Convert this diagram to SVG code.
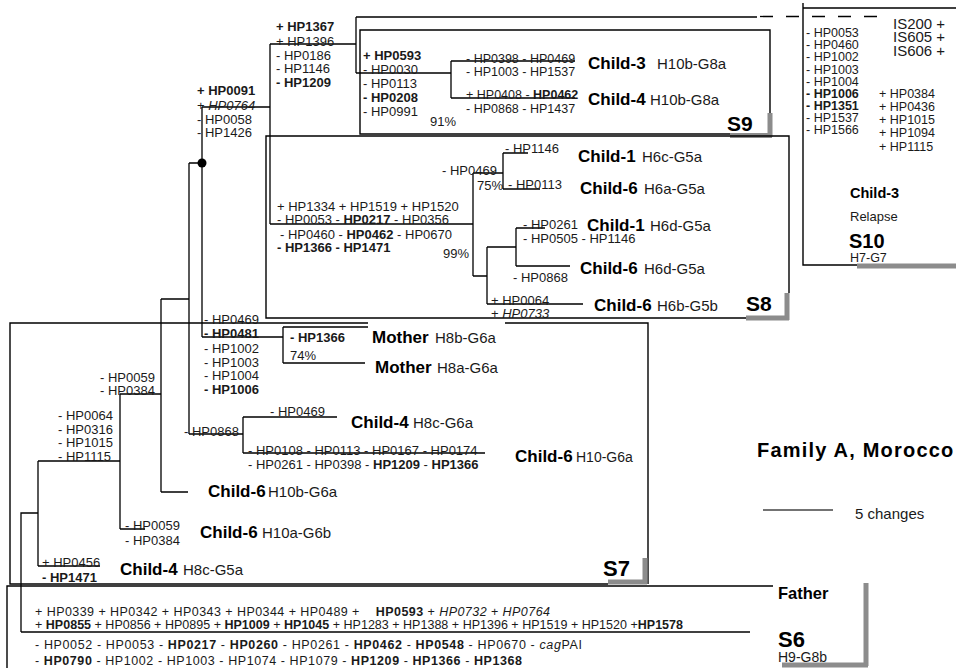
<svg xmlns="http://www.w3.org/2000/svg" width="956" height="668" viewBox="0 0 956 668">
<style>
.ln{stroke:#000;stroke-width:1.3;fill:none}
.bx{stroke:#000;stroke-width:1.4;fill:none}
.gr{stroke:#8c8c8c;stroke-width:5;fill:none}
text{font-family:"Liberation Sans",Arial,sans-serif;fill:#1a1a1a}
.t{font-size:13px}
.t2{font-size:12.5px}
.b{font-weight:bold}
.i{font-style:italic}
.c{font-size:17px;font-weight:bold;fill:#000}
.h{font-size:15px}
.s{font-size:21px;font-weight:bold;fill:#000}
</style>
<rect width="956" height="668" fill="#fff"/>

<g id="connectors">
<path class="ln" d="M21,632 V513 H38 M38,461 V566 M38,461 H120 M38,566 H100"/>
<path class="ln" d="M120,394 V529 M120,394 H161 M120,529 H145"/>
<path class="ln" d="M161,299 V492 M161,299 H189 M161,492 H188"/>
<path class="ln" d="M189,163 V434 M189,163 H202 M189,434 H243"/>
<path class="ln" d="M243,417 V453 M243,417 H337 M243,453 H485"/>
<path class="ln" d="M202,107 V337 M202,107 H270 M202,337 H283"/>
<path class="ln" d="M283,327 V363 M283,327 H368 M283,363 H365"/>
<path class="ln" d="M270,44 V224 M270,44 H356 M270,224 H473"/>
<path class="ln" d="M356,17 V73 M356,17 H757 M356,73 H451"/>
<path class="ln" d="M757,16.5 H884" stroke-dasharray="13 13" style="stroke-dashoffset:-3"/>
<path class="ln" d="M451,61 V98 M451,61 H575 M451,98 H575"/>
<path class="ln" d="M473,173 V276 M473,173 H503 M473,276 H487"/>
<path class="ln" d="M503,153 V189 M503,153 H528 M503,189 H540"/>
<path class="ln" d="M487,247 V304 M487,247 H516 M487,304 H583"/>
<path class="ln" d="M516,228 V266 M516,228 H545 M516,266 H570"/>
<path class="ln" d="M21,632 H750"/>
<circle cx="202" cy="163" r="4.5" fill="#000"/>
</g>

<g id="box-S9">
<path class="bx" d="M730,134 H360 V30 H770 V113"/>
<path class="gr" d="M770,113 V137 M730,135.5 H772"/>
<text class="s" x="727" y="131">S9</text>
</g>
<g id="box-S8">
<path class="bx" d="M746,318 H266 V136 H789 V293"/>
<path class="gr" d="M787,293 V320 M746,318 H789"/>
<text class="s" x="746" y="311">S8</text>
</g>
<g id="box-S7">
<path class="bx" d="M608,584 H10 V323 H368 M505,323 H648 V584"/>
<path class="gr" d="M645,558 V584 M608,582 H647"/>
<text class="s" x="603" y="576" style="font-size:22px">S7</text>
</g>
<g id="box-S6">
<path class="bx" d="M7,668 V586 H773"/>
<path class="gr" d="M866,583 V666 M782,665 H868"/>
<text class="c" x="778" y="599" style="font-size:16.5px">Father</text>
<text class="s" x="778" y="647" style="font-size:22px">S6</text>
<text class="h" x="778" y="662" style="font-size:14px">H9-G8b</text>
</g>
<g id="box-S10">
<path class="bx" d="M803,3 V265 H857 M803,8 H956"/>
<path class="gr" d="M857,266 H956"/>
<text class="c" x="850" y="198" style="font-size:14.5px">Child-3</text>
<text class="t" x="850" y="221" style="font-size:13px">Relapse</text>
<text class="s" x="849" y="248" style="font-size:20px">S10</text>
<text class="t" x="850" y="262" style="font-size:12.5px">H7-G7</text>
</g>

<g id="labels-S10" class="t" style="font-size:12.5px">
<text x="806" y="37">- HP0053</text>
<text x="806" y="49">- HP0460</text>
<text x="806" y="61">- HP1002</text>
<text x="806" y="74">- HP1003</text>
<text x="806" y="86">- HP1004</text>
<text x="806" y="98" class="b">- HP1006</text>
<text x="806" y="110" class="b">- HP1351</text>
<text x="806" y="122">- HP1537</text>
<text x="806" y="134">- HP1566</text>
<text x="893" y="29" style="font-size:15px">IS200 +</text>
<text x="893" y="42" style="font-size:15px">IS605 +</text>
<text x="893" y="56" style="font-size:15px">IS606 +</text>
<text x="879" y="98">+ HP0384</text>
<text x="879" y="111">+ HP0436</text>
<text x="879" y="124">+ HP1015</text>
<text x="879" y="137">+ HP1094</text>
<text x="879" y="151">+ HP1115</text>
</g>

<g id="labels-upper" class="t">
<text x="197" y="95" class="b">+ HP0091</text>
<text x="197" y="110">+ <tspan class="i">HP0764</tspan></text>
<text x="197" y="124">- HP0058</text>
<text x="197" y="137">- HP1426</text>
<text x="276" y="31" class="b">+ HP1367</text>
<text x="276" y="46">+ HP1396</text>
<text x="276" y="60">- HP0186</text>
<text x="276" y="73">- HP1146</text>
<text x="276" y="87" class="b">- HP1209</text>
<text x="363" y="60" class="b">+ HP0593</text>
<text x="363" y="74">- HP0030</text>
<text x="363" y="88">- HP0113</text>
<text x="363" y="102" class="b">- HP0208</text>
<text x="363" y="116">- HP0991</text>
<text x="430" y="126">91%</text>
<text x="466" y="63" class="t2">- HP0398 - HP0469</text>
<text x="466" y="76" class="t2">- HP1003 - HP1537</text>
<text x="466" y="99" class="t2">+ HP0408 - <tspan class="b">HP0462</tspan></text>
<text x="466" y="113" class="t2">- HP0868 - HP1437</text>
</g>
<g id="node-child3-S9"><text class="c" x="588" y="69">Child-3</text><text class="h" x="657" y="69">H10b-G8a</text></g>
<g id="node-child4-S9"><text class="c" x="588" y="105">Child-4</text><text class="h" x="650" y="105">H10b-G8a</text></g>

<g id="labels-S8" class="t">
<text x="277" y="211">+ HP1334 + HP1519 + HP1520</text>
<text x="277" y="224">- HP0053 - <tspan class="b">HP0217</tspan> - HP0356</text>
<text x="280" y="239">- HP0460 - <tspan class="b">HP0462</tspan> - HP0670</text>
<text x="277" y="252" class="b">- HP1366 - HP1471</text>
<text x="442" y="175">- HP0469</text>
<text x="477" y="190">75%</text>
<text x="443" y="258">99%</text>
<text x="505" y="153">- HP1146</text>
<text x="508" y="189">- HP0113</text>
<text x="523" y="229">- HP0261</text>
<text x="523" y="243">- HP0505 - HP1146</text>
<text x="513" y="282">- HP0868</text>
<text x="491" y="305">+ HP0064</text>
<text x="491" y="318">+ <tspan class="i">HP0733</tspan></text>
</g>
<g id="node-child1-H6c"><text class="c" x="578" y="162">Child-1</text><text class="h" x="642" y="162">H6c-G5a</text></g>
<g id="node-child6-H6a"><text class="c" x="580" y="194">Child-6</text><text class="h" x="644" y="194">H6a-G5a</text></g>
<g id="node-child1-H6d"><text class="c" x="587" y="231">Child-1</text><text class="h" x="650" y="231">H6d-G5a</text></g>
<g id="node-child6-H6d"><text class="c" x="580" y="274">Child-6</text><text class="h" x="644" y="274">H6d-G5a</text></g>
<g id="node-child6-H6b"><text class="c" x="594" y="311">Child-6</text><text class="h" x="657" y="311">H6b-G5b</text></g>

<g id="labels-S7" class="t">
<text x="204" y="324">- HP0469</text>
<text x="204" y="338" class="b">- HP0481</text>
<text x="204" y="353">- HP1002</text>
<text x="204" y="367">- HP1003</text>
<text x="204" y="380">- HP1004</text>
<text x="204" y="394" class="b">- HP1006</text>
<text x="290" y="342" class="b">- HP1366</text>
<text x="290" y="360">74%</text>
<text x="270" y="416">- HP0469</text>
<text x="184" y="436">- HP0868</text>
<text x="248" y="455">- HP0108 - HP0113 - HP0167 - HP0174</text>
<text x="248" y="469">- HP0261 - HP0398 - <tspan class="b">HP1209</tspan> - <tspan class="b">HP1366</tspan></text>
<text x="100" y="382">- HP0059</text>
<text x="100" y="395">- HP0384</text>
<text x="58" y="420">- HP0064</text>
<text x="58" y="434">- HP0316</text>
<text x="58" y="447">- HP1015</text>
<text x="58" y="461">- HP1115</text>
<text x="125" y="530">- HP0059</text>
<text x="125" y="545">- HP0384</text>
<text x="42" y="567">+ HP0456</text>
<text x="42" y="582" class="b">- HP1471</text>
</g>
<g id="node-mother-H8b"><text class="c" x="372" y="343">Mother</text><text class="h" x="435" y="343">H8b-G6a</text></g>
<g id="node-mother-H8a"><text class="c" x="375" y="373">Mother</text><text class="h" x="437" y="373">H8a-G6a</text></g>
<g id="node-child4-H8c-G6a"><text class="c" x="351" y="428">Child-4</text><text class="h" x="413" y="428">H8c-G6a</text></g>
<g id="node-child6-H10"><text class="c" x="515" y="462">Child-6</text><text class="h" x="576" y="462" style="font-size:14px">H10-G6a</text></g>
<g id="node-child6-H10b"><text class="c" x="208" y="497">Child-6</text><text class="h" x="268" y="497">H10b-G6a</text></g>
<g id="node-child6-H10a"><text class="c" x="200" y="538">Child-6</text><text class="h" x="262" y="538">H10a-G6b</text></g>
<g id="node-child4-H8c-G5a"><text class="c" x="120" y="575">Child-4</text><text class="h" x="183" y="575">H8c-G5a</text></g>

<g id="labels-S6" class="t2">
<text x="35" y="616" textLength="515" lengthAdjust="spacing">+ HP0339 + HP0342 + HP0343 + HP0344 + HP0489 + <tspan class="b" dx="12">HP0593</tspan> + <tspan class="i">HP0732</tspan> + <tspan class="i">HP0764</tspan></text>
<text x="35" y="629" textLength="648" lengthAdjust="spacing">+ <tspan class="b">HP0855</tspan> + HP0856 + HP0895 + <tspan class="b">HP1009</tspan> + <tspan class="b">HP1045</tspan> + HP1283 + HP1388 + HP1396 + HP1519 + HP1520 +<tspan class="b">HP1578</tspan></text>
<text x="35" y="649" textLength="547" lengthAdjust="spacing">- HP0052 - HP0053 - <tspan class="b">HP0217</tspan> - <tspan class="b">HP0260</tspan> - HP0261 - <tspan class="b">HP0462</tspan> - <tspan class="b">HP0548</tspan> - HP0670 - <tspan class="i">cag</tspan>PAI</text>
<text x="35" y="665" textLength="487" lengthAdjust="spacing">- <tspan class="b">HP0790</tspan> - HP1002 - HP1003 - HP1074 - HP1079 - <tspan class="b">HP1209</tspan> - <tspan class="b">HP1366</tspan> - <tspan class="b">HP1368</tspan></text>
</g>

<g id="title"><text x="757" y="457" style="font-size:20px;font-weight:bold;letter-spacing:1.2px;fill:#000">Family A, Morocco</text></g>
<g id="scale-bar">
<path d="M763,510 H833" stroke="#444" stroke-width="1.5"/>
<text x="855" y="519" style="font-size:15px">5 changes</text>
</g>
</svg>
